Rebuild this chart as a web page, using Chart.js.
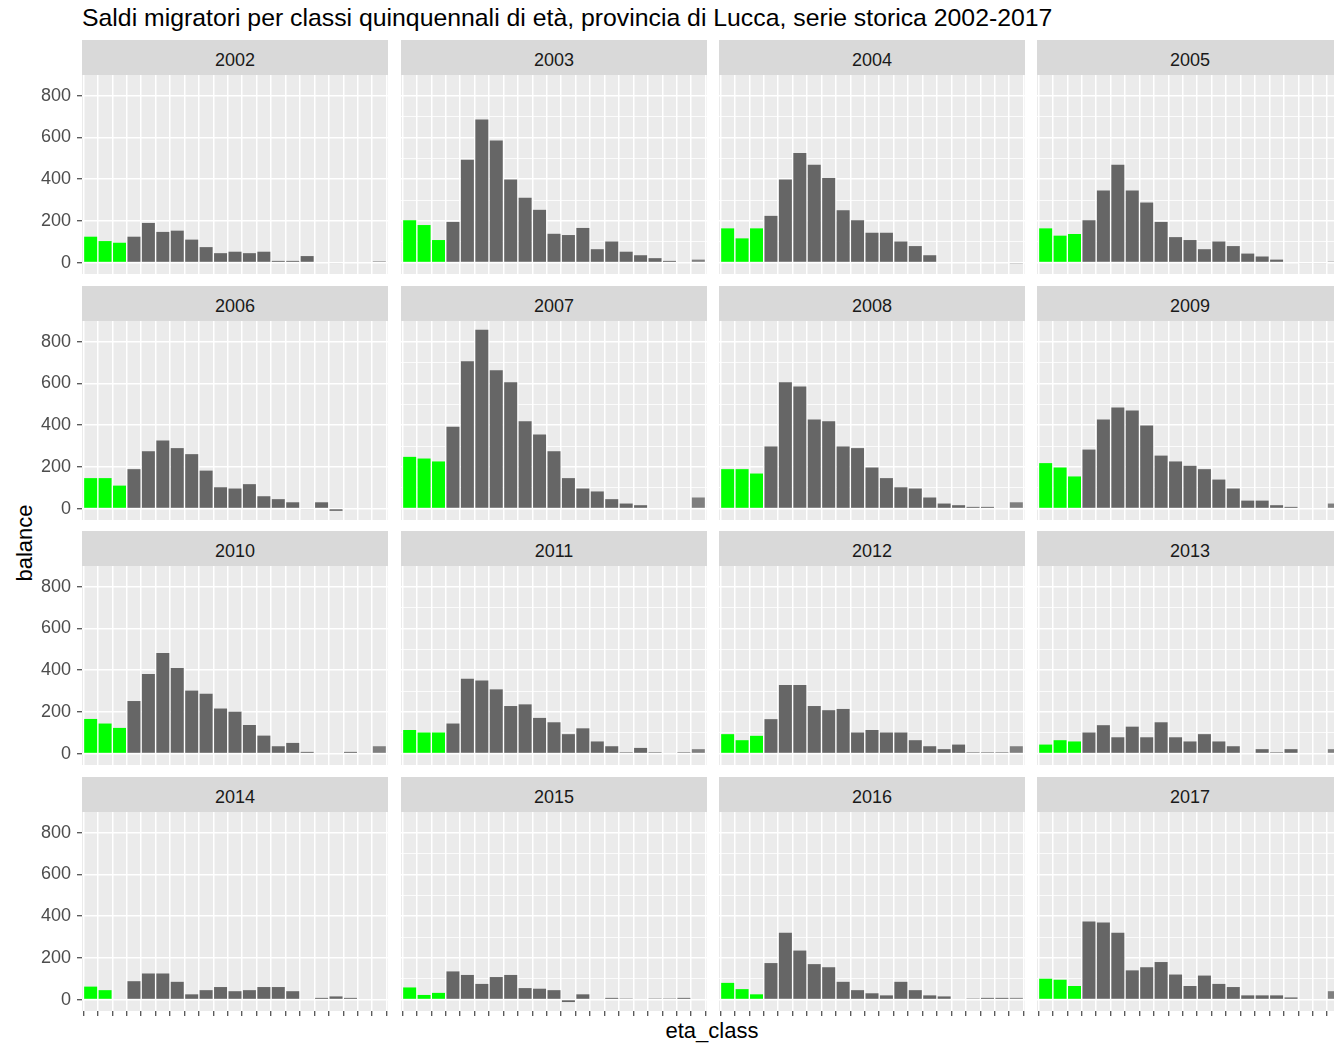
<!DOCTYPE html>
<html>
<head>
<meta charset="utf-8">
<title>Saldi migratori - provincia di Lucca</title>
<script src="https://cdn.jsdelivr.net/npm/chart.js@4.4.1/dist/chart.umd.min.js"></script>
<style>
  html, body { margin: 0; padding: 0; background: #fff; overflow: hidden; }
  body { position: relative; width: 1334px; height: 1043px; font-family: "Liberation Sans", Arial, sans-serif; }
  .title { position: absolute; left: 82px; top: 4px; font-size: 24.8px; line-height: 28px; color: #000; white-space: nowrap; }
  .strip { position: absolute; width: 306px; height: 35px; background: #d9d9d9; color: #1a1a1a;
           font-size: 18px; line-height: 40px; text-align: center; }
  canvas { position: absolute; }
  .ytitle { position: absolute; left: 25px; top: 543px; font-size: 22px; white-space: nowrap;
            transform: translate(-50%, -50%) rotate(-90deg); }
  .xtitle { position: absolute; left: 712px; top: 1031px; font-size: 22px; white-space: nowrap;
            transform: translate(-50%, -50%); }
</style>
</head>
<body>
<div class="title">Saldi migratori per classi quinquennali di età, provincia di Lucca, serie storica 2002-2017</div>
<div class="ytitle">balance</div>
<div class="xtitle">eta_class</div>

<script>
// age classes (x axis, labels are blank in the original)
const ageClasses = ['0-4', '5-9', '10-14', '15-19', '20-24', '25-29', '30-34', '35-39', '40-44', '45-49',
    '50-54', '55-59', '60-64', '65-69', '70-74', '75-79', '80-84', '85-89', '90-94', '95-99', '100+'];

const years = [2002, 2003, 2004, 2005, 2006, 2007, 2008, 2009, 2010, 2011, 2012, 2013, 2014, 2015, 2016, 2017];

// migration balance per age class, one array per year
const saldi2002 = [124, 103, 95, 124, 190, 147, 153, 110, 74, 45, 52, 45, 52, 8, 8, 31, 0, -4, 0, 0, 6];
const saldi2003 = [203, 180, 108, 195, 493, 687, 586, 398, 311, 253, 138, 132, 166, 64, 101, 52, 35, 21, 8, 0, 14];
const saldi2004 = [164, 116, 164, 224, 398, 526, 469, 406, 251, 203, 143, 143, 101, 79, 35, 0, 0, 0, 0, 0, -5];
const saldi2005 = [164, 129, 137, 203, 346, 469, 346, 288, 195, 122, 108, 64, 101, 79, 43, 29, 14, 0, -4, -4, 5];
const saldi2006 = [146, 146, 110, 189, 275, 326, 290, 261, 182, 102, 96, 117, 59, 45, 30, -4, 30, -11, 0, 0, 0];
const saldi2007 = [248, 240, 226, 392, 707, 858, 664, 606, 419, 355, 275, 146, 96, 82, 45, 24, 16, 0, 0, 0, 53];
const saldi2008 = [189, 189, 168, 298, 606, 586, 427, 419, 298, 290, 197, 146, 102, 96, 53, 24, 16, 8, 8, 0, 30];
const saldi2009 = [218, 197, 154, 283, 427, 485, 470, 398, 254, 226, 205, 189, 139, 96, 38, 38, 16, 8, 0, 0, 24];
const saldi2010 = [166, 144, 123, 252, 382, 482, 410, 302, 287, 216, 201, 137, 86, 35, 51, 8, 0, 0, 8, 0, 35];
const saldi2011 = [113, 101, 101, 144, 359, 351, 308, 228, 236, 171, 150, 93, 121, 58, 35, 6, 27, 6, 0, 6, 21];
const saldi2012 = [93, 64, 85, 165, 329, 329, 228, 208, 214, 101, 113, 101, 101, 64, 35, 21, 43, 6, 6, 6, 35];
const saldi2013 = [43, 64, 58, 101, 136, 78, 129, 78, 150, 78, 58, 93, 58, 35, 0, 21, 6, 21, 0, 0, 21];
const saldi2014 = [62, 45, 0, 88, 125, 125, 85, 25, 45, 60, 40, 45, 60, 60, 40, 0, 8, 15, 8, 0, 0];
const saldi2015 = [58, 22, 32, 135, 118, 75, 108, 118, 55, 52, 45, -12, 25, 0, 8, 5, 0, 5, 5, 8, 0];
const saldi2016 = [80, 50, 25, 175, 320, 235, 170, 155, 85, 45, 30, 20, 85, 45, 20, 15, 0, 5, 8, 8, 8];
const saldi2017 = [100, 95, 65, 375, 370, 320, 140, 155, 180, 120, 65, 115, 75, 60, 20, 20, 20, 10, 0, 0, 40];

const saldiByYear = [saldi2002, saldi2003, saldi2004, saldi2005, saldi2006, saldi2007, saldi2008, saldi2009,
    saldi2010, saldi2011, saldi2012, saldi2013, saldi2014, saldi2015, saldi2016, saldi2017];

const yGridValues = [0, 100, 200, 300, 400, 500, 600, 700, 800];
const yTickLabels = [0, 200, 400, 600, 800];

// children (0-14) in green, the rest grey
const barColors = ageClasses.map((_, i) => i < 3 ? '#00ff00' : (i === 20 ? '#7f7f7f' : '#666666'));

// facet geometry
const colLeft = [82, 401, 719, 1037];
const stripTop = [40, 285.5, 531, 776.5];
const panelW = 306;
const stripH = 35;
const panelH = 199;
const axisW = 82;

Chart.defaults.font.family = '"Liberation Sans", Arial, sans-serif';

// grey panel background, like ggplot
const panelBackground = {
    id: 'panelBackground',
    beforeDraw(chart) {
        const { ctx, chartArea: a } = chart;
        ctx.save();
        ctx.fillStyle = '#ebebeb';
        ctx.fillRect(a.left, a.top, a.right - a.left, a.bottom - a.top);
        ctx.restore();
    }
};

function makePanel(idx) {
    const col = idx % 4, row = Math.floor(idx / 4);
    const firstCol = col === 0, lastRow = row === 3;

    const strip = document.createElement('div');
    strip.className = 'strip';
    strip.style.left = colLeft[col] + 'px';
    strip.style.top = stripTop[row] + 'px';
    strip.textContent = years[idx];
    document.body.appendChild(strip);

    const canvas = document.createElement('canvas');
    const w = panelW + (firstCol ? axisW : 0);
    const h = panelH + (lastRow ? 10 : 0);
    canvas.width = w;
    canvas.height = h;
    canvas.style.width = w + 'px';
    canvas.style.height = h + 'px';
    canvas.style.left = (colLeft[col] - (firstCol ? axisW : 0)) + 'px';
    canvas.style.top = (stripTop[row] + stripH) + 'px';
    document.body.appendChild(canvas);

    const values = saldiByYear[idx];

    new Chart(canvas, {
        type: 'bar',
        data: {
            datasets: [{
                label: String(years[idx]),
                data: values.map((v, i) => ({ x: i, y: v })),
                backgroundColor: barColors,
                borderWidth: 0,
                barPercentage: 0.9,
                categoryPercentage: 1
            }]
        },
        options: {
            responsive: false,
            animation: false,
            devicePixelRatio: 1,
            layout: { padding: 0 },
            plugins: { legend: { display: false }, tooltip: { enabled: false } },
            scales: {
                x: {
                    type: 'linear',
                    min: -0.6,
                    max: 20.6,
                    offset: false,
                    afterBuildTicks: a => { a.ticks = ageClasses.map((_, i) => ({ value: i })); },
                    afterFit: a => {
                        a.height = lastRow ? 10 : 0;
                        a.paddingLeft = a.paddingRight = a.paddingTop = a.paddingBottom = 0;
                    },
                    ticks: { display: lastRow, callback: () => '', padding: 0 },
                    grid: { color: '#ffffff', lineWidth: 1.5, drawTicks: lastRow, tickLength: 5, tickColor: '#333333', tickWidth: 1.1 },
                    border: { display: false }
                },
                y: {
                    min: -55,
                    max: 900,
                    afterBuildTicks: a => { a.ticks = yGridValues.map(v => ({ value: v })); },
                    afterFit: a => {
                        a.width = firstCol ? axisW : 0;
                        a.paddingLeft = a.paddingRight = a.paddingTop = a.paddingBottom = 0;
                    },
                    ticks: {
                        display: firstCol,
                        color: '#4d4d4d',
                        font: { size: 18 },
                        padding: 6,
                        callback: v => yTickLabels.includes(v) ? String(v) : ''
                    },
                    grid: {
                        color: '#ffffff',
                        lineWidth: c => (c.tick && c.tick.value % 200 === 0) ? 1.5 : 0.8,
                        drawTicks: firstCol,
                        tickLength: 5,
                        tickWidth: 1.1,
                        tickColor: c => (c.tick && c.tick.value % 200 === 0) ? '#333333' : 'rgba(0,0,0,0)'
                    },
                    border: { display: false }
                }
            }
        },
        plugins: [panelBackground]
    });
}

years.forEach((_, i) => makePanel(i));
</script>
</body>
</html>
